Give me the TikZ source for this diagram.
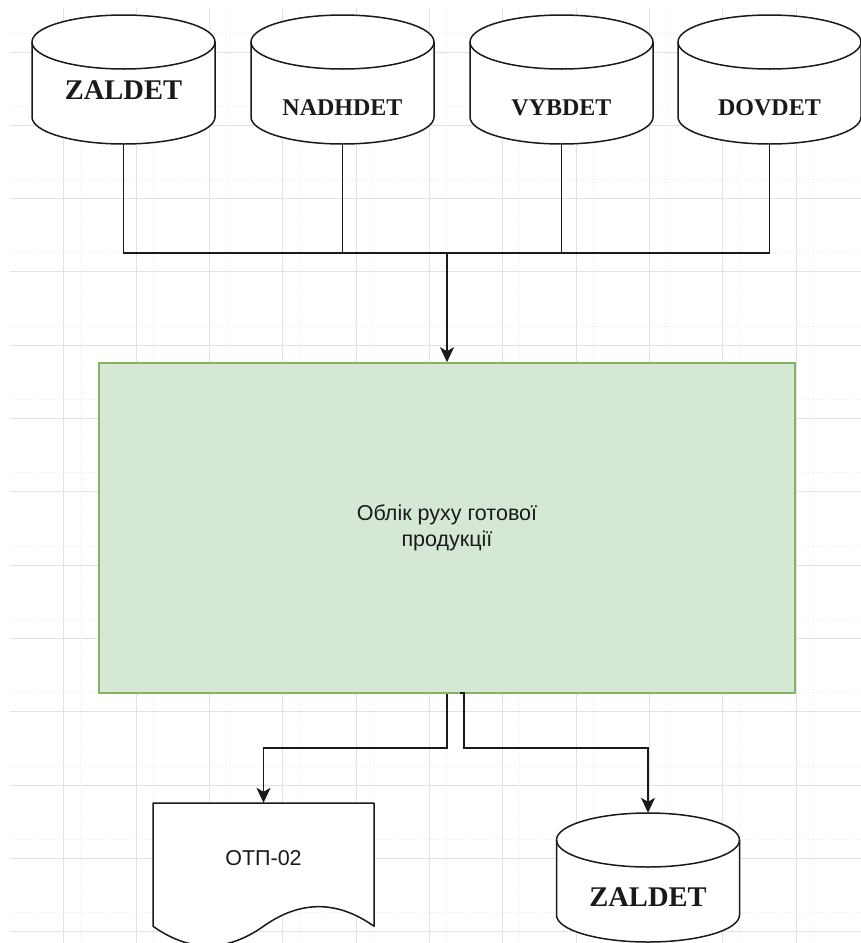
\documentclass[tikz,border=0pt]{standalone}
\usepackage{fontspec}
\setmainfont{Liberation Serif}
\newfontfamily\labelsans{Liberation Sans}
\usetikzlibrary{arrows.meta}

\definecolor{gridmaj}{HTML}{E2E2E2}
\definecolor{gridmin}{HTML}{EBEBEB}
\definecolor{procfill}{HTML}{D5E8D4}
\definecolor{procline}{HTML}{82B366}
\definecolor{ink}{HTML}{1A1A1A}

\tikzset{
  wire/.style={draw=ink, line width=1.6pt},
  flow/.style={wire, -{Stealth[length=15pt,width=14pt,inset=4pt]}},
  outline/.style={draw=ink, line width=1.5pt, line join=round},
  cylbody/.style={inner sep=0pt, minimum width=183pt, minimum height=129pt},
  dblabel/.style={inner sep=0pt, text=ink},
  sanslabel/.style={inner sep=0pt, text=ink, align=center,
    font=\labelsans\fontsize{21.5}{26}\selectfont},
  procbox/.style={draw=procline, fill=procfill, line width=1.6pt,
    minimum width=696pt, minimum height=330pt, inner sep=0pt,
    text=ink, align=center, font=\labelsans\fontsize{21.5}{26}\selectfont},
  docbox/.style={inner sep=0pt, minimum width=221pt, minimum height=145pt},
}

% database cylinder: name, centre x, top y, label y, label size, label
\newcommand\dbcyl[6]{%
  \pgfmathsetmacro\cylL{#2-91.5}%
  \pgfmathsetmacro\cylR{#2+91.5}%
  \pgfmathsetmacro\cylT{#3+27}%
  \pgfmathsetmacro\cylB{#3+129-27}%
  \path[outline, fill=white] (\cylL,\cylT) -- (\cylL,\cylB)
    arc[start angle=180, end angle=0, x radius=91.5, y radius=27]
    -- (\cylR,\cylT)
    arc[start angle=360, end angle=180, x radius=91.5, y radius=27] -- cycle;
  \draw[outline] (\cylL,\cylT)
    arc[start angle=180, end angle=0, x radius=91.5, y radius=27];
  \node[cylbody] (#1) at (#2,#3+64.5) {};
  \node[dblabel, font=\bfseries\fontsize{#5}{#5}\selectfont] (#1-label) at (#2,#4) {#6};
}

\begin{document}
\begin{tikzpicture}[x=1pt, y=-1pt]
  \useasboundingbox (0,0) rectangle (861,943);
  \clip (0,0) rectangle (861,943);
  \fill[white] (0,0) rectangle (861,943);

  % background grid
  \foreach \k in {0,...,10} {
    \draw[gridmaj, line width=1pt] ({63+73.33*\k},8) -- ({63+73.33*\k},943);
    \draw[gridmin, line width=1pt, dotted] ({80+73.33*\k},8) -- ({80+73.33*\k},943);
  }
  \foreach \k in {0,...,12} {
    \draw[gridmaj, line width=1pt] (10,{52+73.33*\k}) -- (861,{52+73.33*\k});
    \draw[gridmin, line width=1pt, dotted] (10,{33+73.33*\k}) -- (861,{33+73.33*\k});
  }

  % source tables
  \dbcyl{zaldet}{123.5}{15}{90}{28.5}{ZALDET}
  \dbcyl{nadhdet}{342.5}{15}{108}{24}{NADHDET}
  \dbcyl{vybdet}{561.5}{15}{108}{24}{VYBDET}
  \dbcyl{dovdet}{769.5}{15}{108}{24}{DOVDET}

  % process
  \node[procbox] (proc) at (447,528) {Облік руху готової\\продукції};

  % output document
  \path[outline, fill=white] (153,803) -- (374,803) -- (374,926.25)
    .. controls (337.17,900.15) and (300.33,900.15) .. (263.5,926.25)
    .. controls (226.67,952.35) and (189.83,952.35) .. (153,926.25) -- cycle;
  \node[docbox] (doc) at (263.5,875.5) {};
  \node[sanslabel] (doc-label) at (263.5,858) {ОТП-02};

  % output table
  \dbcyl{zout}{648}{813}{897}{28.5}{ZALDET}

  % inputs merge into the process
  \coordinate (bus) at (447,253);
  \draw[wire] (zaldet.south) |- (dovdet.south |- bus) -- (dovdet.south);
  \draw[wire] (nadhdet.south) -- (nadhdet.south |- bus);
  \draw[wire] (vybdet.south) -- (vybdet.south |- bus);
  \draw[flow] (bus) -- (proc.north);

  % outputs
  \coordinate (split1) at (447,748);
  \draw[flow] (proc.south) -- (split1) -| (doc.north);
  \coordinate (out2) at (460,693);
  \coordinate (jog2) at (464,693);
  \coordinate (split2) at (464,748);
  \draw[flow] (out2) -- (jog2) -- (split2) -| (zout.north);
\end{tikzpicture}
\end{document}
